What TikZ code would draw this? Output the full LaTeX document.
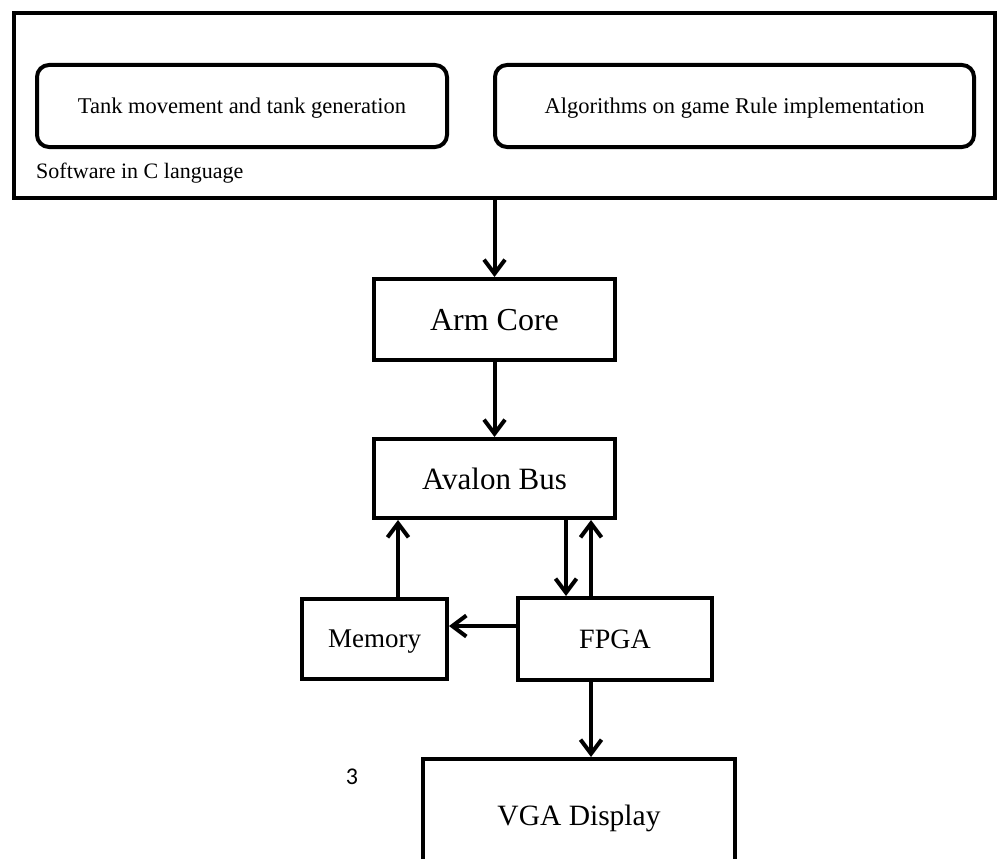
\documentclass[tikz,border=0pt]{standalone}
\usepackage{fontspec}
\setmainfont{Liberation Serif}
\newfontfamily\pagefont{Carlito}
\usepackage{tikz}
\usetikzlibrary{arrows.meta,positioning,calc}

\begin{document}
\begin{tikzpicture}[x=1pt,y=-1pt,
    blk/.style={draw,line width=4pt,inner sep=0pt,text depth=0pt},
    rblk/.style={blk,rounded corners=12pt},
    link/.style={line width=4pt,-{Straight Barb[length=14pt,width=21pt,line width=4pt]}},
    fs/.style={font=\fontsize{#1}{#1}\selectfont}]
    \useasboundingbox (0,0) rectangle (1001,859);
    \clip (0,0) rectangle (1001,859);

    % software part
    \node[blk,minimum width=981pt,minimum height=185pt] (sw) at (504.5,105.5) {};
    \node[rblk,minimum width=410pt,minimum height=82pt,fs=22.5] (tank) at (242,106) {Tank movement and tank generation};
    \node[rblk,minimum width=479pt,minimum height=82pt,fs=22.5] (rule) at (734.5,106) {Algorithms on game Rule implementation};
    \node[anchor=west,inner sep=0pt,fs=22] (swlabel) at (36,173) {Software in C language};

    % hardware part
    \node[blk,minimum width=241pt,minimum height=81pt,fs=32] (arm) at (494.5,319.5) {Arm Core};
    \node[blk,minimum width=241pt,minimum height=79pt,fs=31] (avl) at (494.5,478.5) {Avalon Bus};
    \node[blk,minimum width=145pt,minimum height=80pt,fs=27] (mem) at (374.5,639) {Memory};
    \node[blk,minimum width=194pt,minimum height=82pt,fs=28] (fpga) at (615,639) {FPGA};
    \node[blk,minimum width=312pt,minimum height=112pt,fs=29.5] (vga) at (579,815) {VGA Display};
    \node[fs=24] (pnum) at (352,777) {\pagefont 3};

    \draw[link] (sw.south -| arm.north) -- (arm.north);
    \draw[link] (arm.south) -- (avl.north);
    \draw[link] ([xshift=23.5pt]mem.north) -- ([xshift=23.5pt]mem.north |- avl.south);
    \draw[link] ([xshift=-49pt]fpga.north |- avl.south) -- ([xshift=-49pt]fpga.north);
    \draw[link] ([xshift=-24pt]fpga.north) -- ([xshift=-24pt]fpga.north |- avl.south);
    \draw[link] ([yshift=13pt]fpga.west) -- ([yshift=13pt]fpga.west -| mem.east);
    \draw[link] ([xshift=-24pt]fpga.south) -- ([xshift=-24pt]fpga.south |- vga.north);
\end{tikzpicture}
\end{document}
